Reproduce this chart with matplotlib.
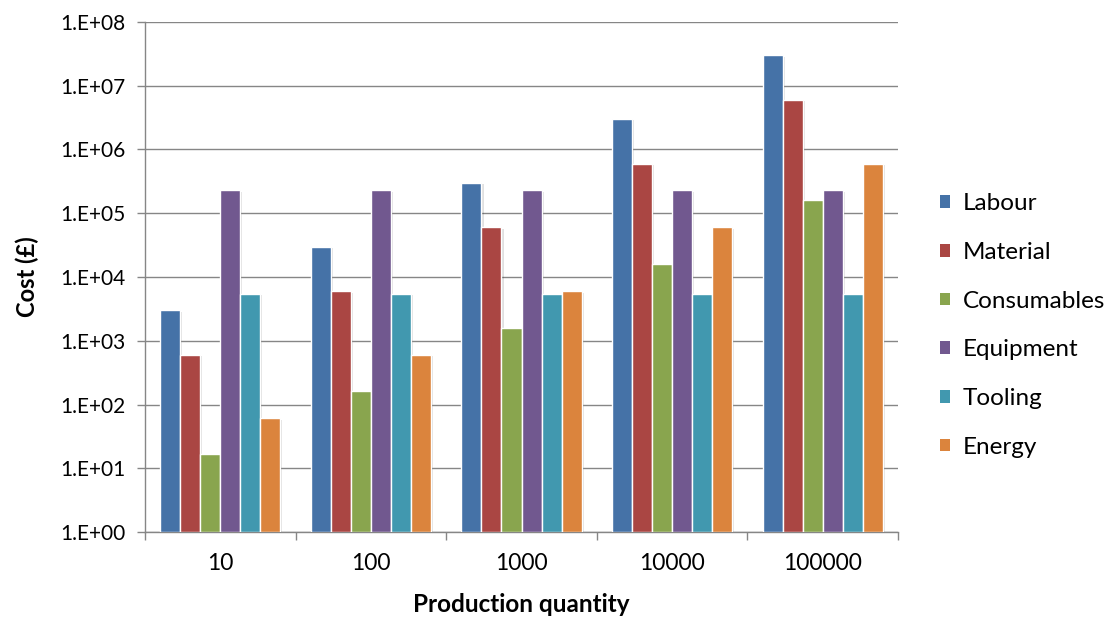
import matplotlib
matplotlib.use("Agg")
import matplotlib.pyplot as plt
import matplotlib.patheffects as pe
from matplotlib.ticker import FixedLocator, FuncFormatter
import numpy as np

plt.rcParams['font.family'] = ['Lato', 'DejaVu Sans']

quantities = ["10", "100", "1000", "10000", "100000"]
labour      = [3000, 30000, 300000, 3000000, 30000000]
material    = [600, 6000, 60000, 600000, 6000000]
consumables = [16, 160, 1600, 16000, 160000]
equipment   = [230000, 230000, 230000, 230000, 230000]
tooling     = [5400, 5400, 5400, 5400, 5400]
energy      = [60, 600, 6000, 60000, 600000]

series = [
    ("Labour", labour, "#4572A7"),
    ("Material", material, "#AA4643"),
    ("Consumables", consumables, "#89A54E"),
    ("Equipment", equipment, "#71588F"),
    ("Tooling", tooling, "#4198AF"),
    ("Energy", energy, "#DB843D"),
]

fig = plt.figure(figsize=(11.19, 6.19), dpi=100)
ax = fig.add_axes([0.1296, 0.1405, 0.6729, 0.824])

x = np.arange(len(quantities))
width = 0.133
n = len(series)
shadow = [pe.SimplePatchShadow(offset=(1.5, -1), shadow_rgbFace="#000000", alpha=0.12), pe.Normal()]
for i, (name, vals, color) in enumerate(series):
    offs = (i - (n - 1) / 2) * width
    bars = ax.bar(x + offs, vals, width, bottom=1, color=color, edgecolor="white",
                  linewidth=1.0, label=name, zorder=3)
    for b in bars:
        b.set_path_effects(shadow)

ax.set_yscale("log")
ax.set_ylim(1, 1e8)
ax.set_xlim(-0.5, len(quantities) - 0.5)

ax.yaxis.set_major_locator(FixedLocator([10.0 ** k for k in range(0, 9)]))
ax.yaxis.set_minor_locator(FixedLocator([]))
ax.yaxis.set_major_formatter(FuncFormatter(lambda v, p: "1.E+%02d" % int(round(np.log10(v)))))

ax.set_xticks(x)
ax.set_xticklabels(quantities)
ax.set_xticks(np.arange(-0.5, len(quantities)), minor=True)
ax.tick_params(axis="x", which="major", length=0, pad=15, labelsize=16.5)
ax.tick_params(axis="x", which="minor", length=6, color="#868686", width=1, direction="out")
ax.tick_params(axis="y", which="major", length=6, color="#868686", width=1, direction="out",
               pad=8, labelsize=15)

ax.grid(axis="y", color="#868686", linewidth=1, zorder=0)
ax.set_axisbelow(True)
for side in ("top", "right"):
    ax.spines[side].set_visible(False)
for side in ("left", "bottom"):
    ax.spines[side].set_color("#868686")
    ax.spines[side].set_linewidth(1)

ax.set_ylabel("Cost (£)", fontsize=17, fontweight="bold", labelpad=15)
ax.set_xlabel("Production quantity", fontsize=17.5, fontweight="bold", labelpad=14)

leg = ax.legend(loc="center left", bbox_to_anchor=(1.027, 0.405), frameon=False, fontsize=17.5,
                handlelength=0.42, handleheight=0.42, handletextpad=0.5, labelspacing=1.14)
for h in leg.legend_handles:
    h.set_path_effects([])
    h.set_edgecolor("none")

fig.savefig("out.png", dpi=100)
